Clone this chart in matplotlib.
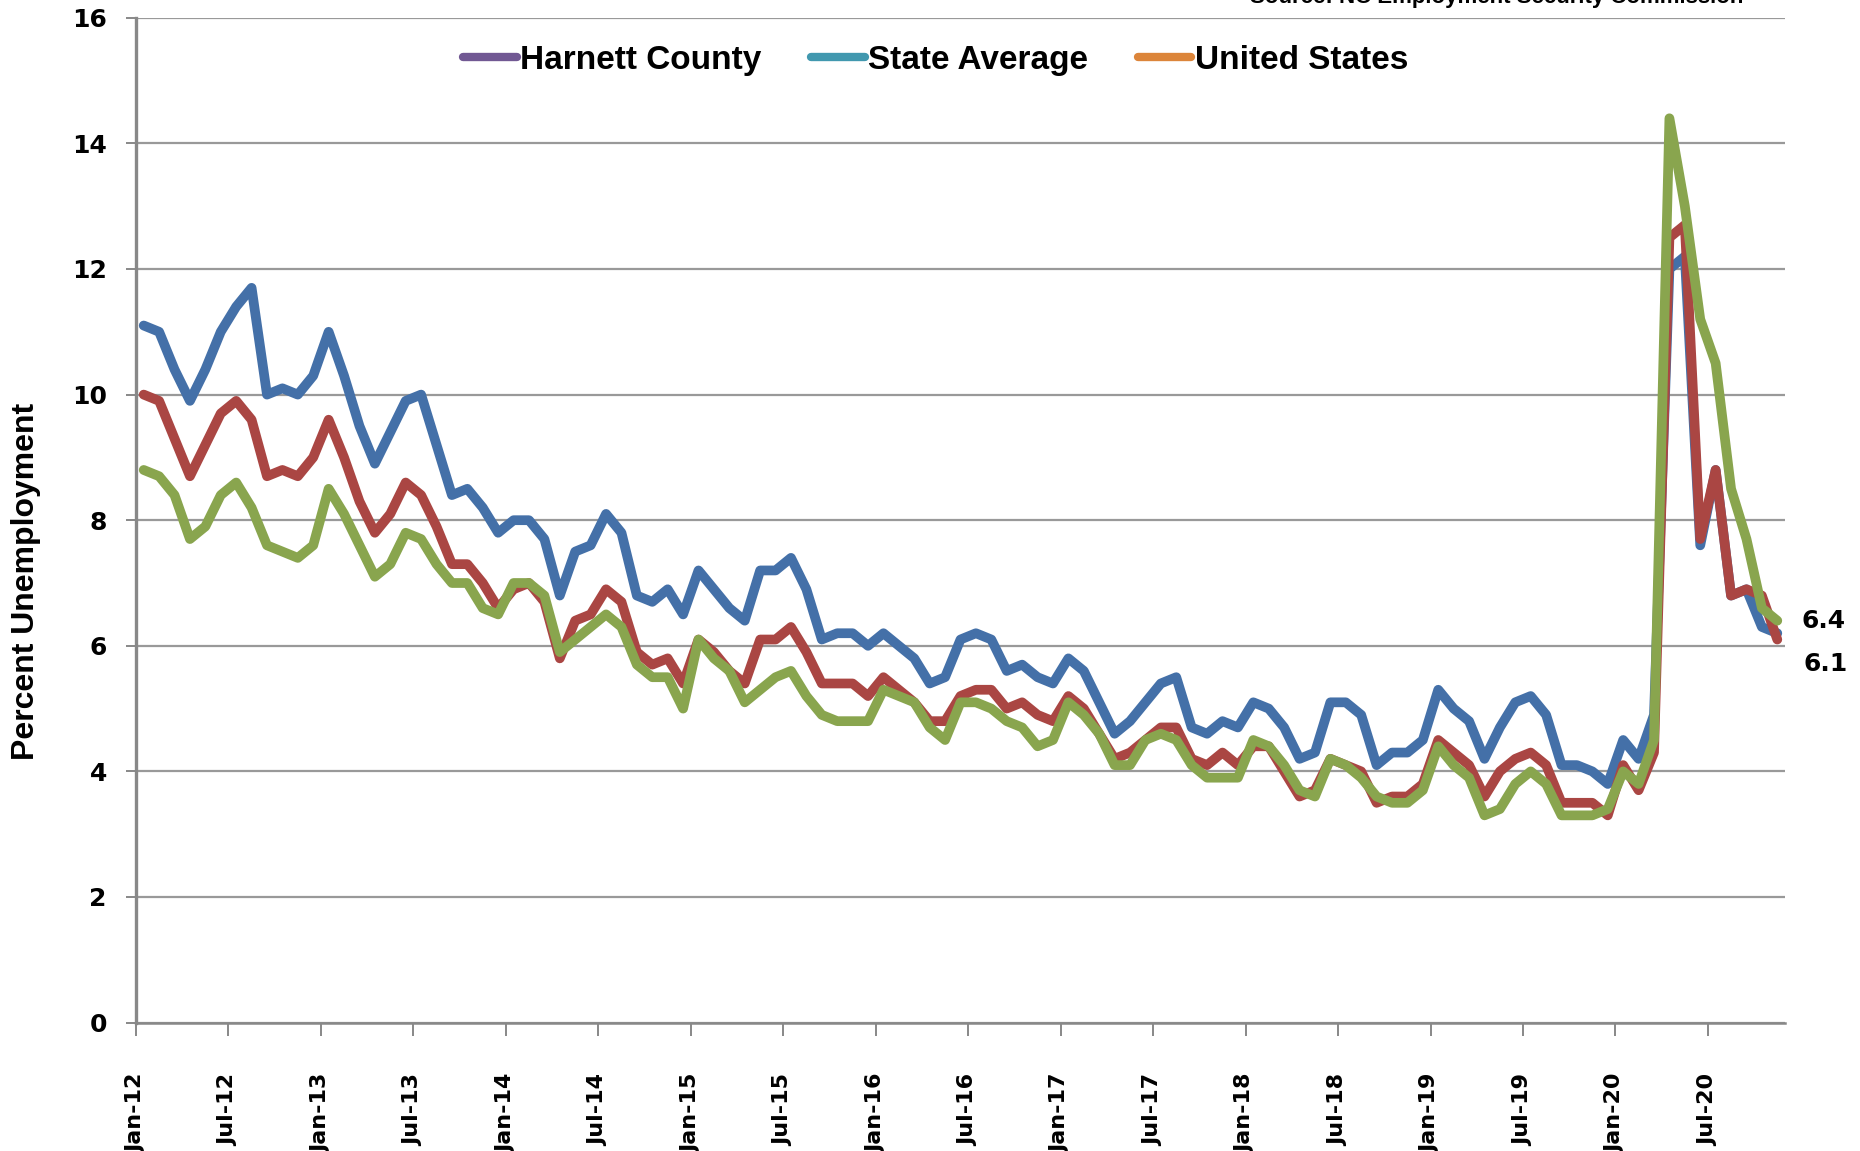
import matplotlib
matplotlib.use("Agg")
import matplotlib.pyplot as plt
import matplotlib.transforms as mtransforms
from matplotlib.lines import Line2D
import numpy as np

# monthly unemployment rate (%), Jan-12 .. Nov-20
harnett = [11.1, 11.0, 10.4, 9.9, 10.4, 11.0, 11.4, 11.7, 10.0, 10.1, 10.0, 10.3,
           11.0, 10.3, 9.5, 8.9, 9.4, 9.9, 10.0, 9.2, 8.4, 8.5, 8.2, 7.8,
           8.0, 8.0, 7.7, 6.8, 7.5, 7.6, 8.1, 7.8, 6.8, 6.7, 6.9, 6.5,
           7.2, 6.9, 6.6, 6.4, 7.2, 7.2, 7.4, 6.9, 6.1, 6.2, 6.2, 6.0,
           6.2, 6.0, 5.8, 5.4, 5.5, 6.1, 6.2, 6.1, 5.6, 5.7, 5.5, 5.4,
           5.8, 5.6, 5.1, 4.6, 4.8, 5.1, 5.4, 5.5, 4.7, 4.6, 4.8, 4.7,
           5.1, 5.0, 4.7, 4.2, 4.3, 5.1, 5.1, 4.9, 4.1, 4.3, 4.3, 4.5,
           5.3, 5.0, 4.8, 4.2, 4.7, 5.1, 5.2, 4.9, 4.1, 4.1, 4.0, 3.8,
           4.5, 4.2, 4.9, 12.0, 12.2, 7.6, 8.8, 6.8, 6.9, 6.3, 6.2]
state = [10.0, 9.9, 9.3, 8.7, 9.2, 9.7, 9.9, 9.6, 8.7, 8.8, 8.7, 9.0,
         9.6, 9.0, 8.3, 7.8, 8.1, 8.6, 8.4, 7.9, 7.3, 7.3, 7.0, 6.6,
         6.9, 7.0, 6.7, 5.8, 6.4, 6.5, 6.9, 6.7, 5.9, 5.7, 5.8, 5.4,
         6.1, 5.9, 5.6, 5.4, 6.1, 6.1, 6.3, 5.9, 5.4, 5.4, 5.4, 5.2,
         5.5, 5.3, 5.1, 4.8, 4.8, 5.2, 5.3, 5.3, 5.0, 5.1, 4.9, 4.8,
         5.2, 5.0, 4.6, 4.2, 4.3, 4.5, 4.7, 4.7, 4.2, 4.1, 4.3, 4.1,
         4.4, 4.4, 4.0, 3.6, 3.7, 4.2, 4.1, 4.0, 3.5, 3.6, 3.6, 3.8,
         4.5, 4.3, 4.1, 3.6, 4.0, 4.2, 4.3, 4.1, 3.5, 3.5, 3.5, 3.3,
         4.1, 3.7, 4.3, 12.5, 12.7, 7.7, 8.8, 6.8, 6.9, 6.8, 6.1]
us = [8.8, 8.7, 8.4, 7.7, 7.9, 8.4, 8.6, 8.2, 7.6, 7.5, 7.4, 7.6,
      8.5, 8.1, 7.6, 7.1, 7.3, 7.8, 7.7, 7.3, 7.0, 7.0, 6.6, 6.5,
      7.0, 7.0, 6.8, 5.9, 6.1, 6.3, 6.5, 6.3, 5.7, 5.5, 5.5, 5.0,
      6.1, 5.8, 5.6, 5.1, 5.3, 5.5, 5.6, 5.2, 4.9, 4.8, 4.8, 4.8,
      5.3, 5.2, 5.1, 4.7, 4.5, 5.1, 5.1, 5.0, 4.8, 4.7, 4.4, 4.5,
      5.1, 4.9, 4.6, 4.1, 4.1, 4.5, 4.6, 4.5, 4.1, 3.9, 3.9, 3.9,
      4.5, 4.4, 4.1, 3.7, 3.6, 4.2, 4.1, 3.9, 3.6, 3.5, 3.5, 3.7,
      4.4, 4.1, 3.9, 3.3, 3.4, 3.8, 4.0, 3.8, 3.3, 3.3, 3.3, 3.4,
      4.0, 3.8, 4.5, 14.4, 13.0, 11.2, 10.5, 8.5, 7.7, 6.6, 6.4]

tick_labels = ['Jan-12', 'Jul-12', 'Jan-13', 'Jul-13', 'Jan-14', 'Jul-14',
               'Jan-15', 'Jul-15', 'Jan-16', 'Jul-16', 'Jan-17', 'Jul-17',
               'Jan-18', 'Jul-18', 'Jan-19', 'Jul-19', 'Jan-20', 'Jul-20']
series_names = ['Harnett County', 'State Average', 'United States']
legend_colors = ['#715893', '#4198AF', '#DC853A']
line_colors = ['#4470A8', '#AA4643', '#89A54E']

narrow = ['Liberation Sans Narrow', 'Liberation Sans', 'DejaVu Sans']
W, H = 1860, 1151

fig = plt.figure(figsize=(W / 100, H / 100), dpi=100)
ax = fig.add_axes([136 / W, 1 - 1022.6 / H, (1785 - 136) / W, (1022.6 - 17.8) / H])

x = np.arange(len(us)) + 0.5
for vals, col in zip([harnett, state, us], line_colors):
    ax.plot(x, vals, color=col, lw=7, solid_joinstyle='round',
            solid_capstyle='round', zorder=3)

ax.set_xlim(0, 107)
ax.set_ylim(0, 16)
ax.set_yticks(np.arange(0, 17, 2))
ax.set_xticks(np.arange(0, 6 * len(tick_labels), 6))
ax.set_xticklabels(tick_labels, rotation=90, fontsize=16, fontweight='bold')
shift = mtransforms.ScaledTranslation(10 / 100, 0, fig.dpi_scale_trans)
for t in ax.get_xticklabels():
    t.set_transform(t.get_transform() + shift)
for t in ax.get_yticklabels():
    t.set_fontsize(18)
    t.set_fontweight('bold')

ax.yaxis.grid(True, color='#999999', lw=1.6)
ax.set_axisbelow(True)
for s in ['top', 'right']:
    ax.spines[s].set_visible(False)
ax.spines['left'].set_color('#888888')
ax.spines['left'].set_linewidth(2.4)
ax.spines['bottom'].set_color('#888888')
ax.spines['bottom'].set_linewidth(1.8)
ax.tick_params(axis='y', length=7, width=1.4, color='#888888', pad=14)
ax.tick_params(axis='x', length=9, width=1.4, color='#888888', pad=28)

ax.annotate(f'{us[-1]}', (x[-1], us[-1]), xytext=(24, 0), textcoords='offset pixels',
            va='center', ha='left', fontsize=18, fontweight='bold')
ax.annotate(f'{state[-1]}', (x[-1], state[-1]), xytext=(26, -24), textcoords='offset pixels',
            va='center', ha='left', fontsize=18, fontweight='bold')

handles = [Line2D([], [], color=c, lw=6, solid_capstyle='round') for c in legend_colors]
ax.legend(handles, series_names, loc='center', bbox_to_anchor=(0.485, 0.958), ncol=3,
          frameon=False, handlelength=1.6, handletextpad=0.1, columnspacing=1.5,
          prop={'family': narrow, 'weight': 'bold', 'size': 24})

fig.text(26 / W, 1 - 581 / H, 'Percent Unemployment', rotation=90, ha='center', va='center',
         family=narrow, fontweight='bold', fontsize=23)
fig.text(1743 / W, 1 - 3 / H, 'Source: NC Employment Security Commission', ha='right',
         va='baseline', family=narrow, fontweight='bold', fontsize=16)

fig.savefig('out.png', dpi=100)
